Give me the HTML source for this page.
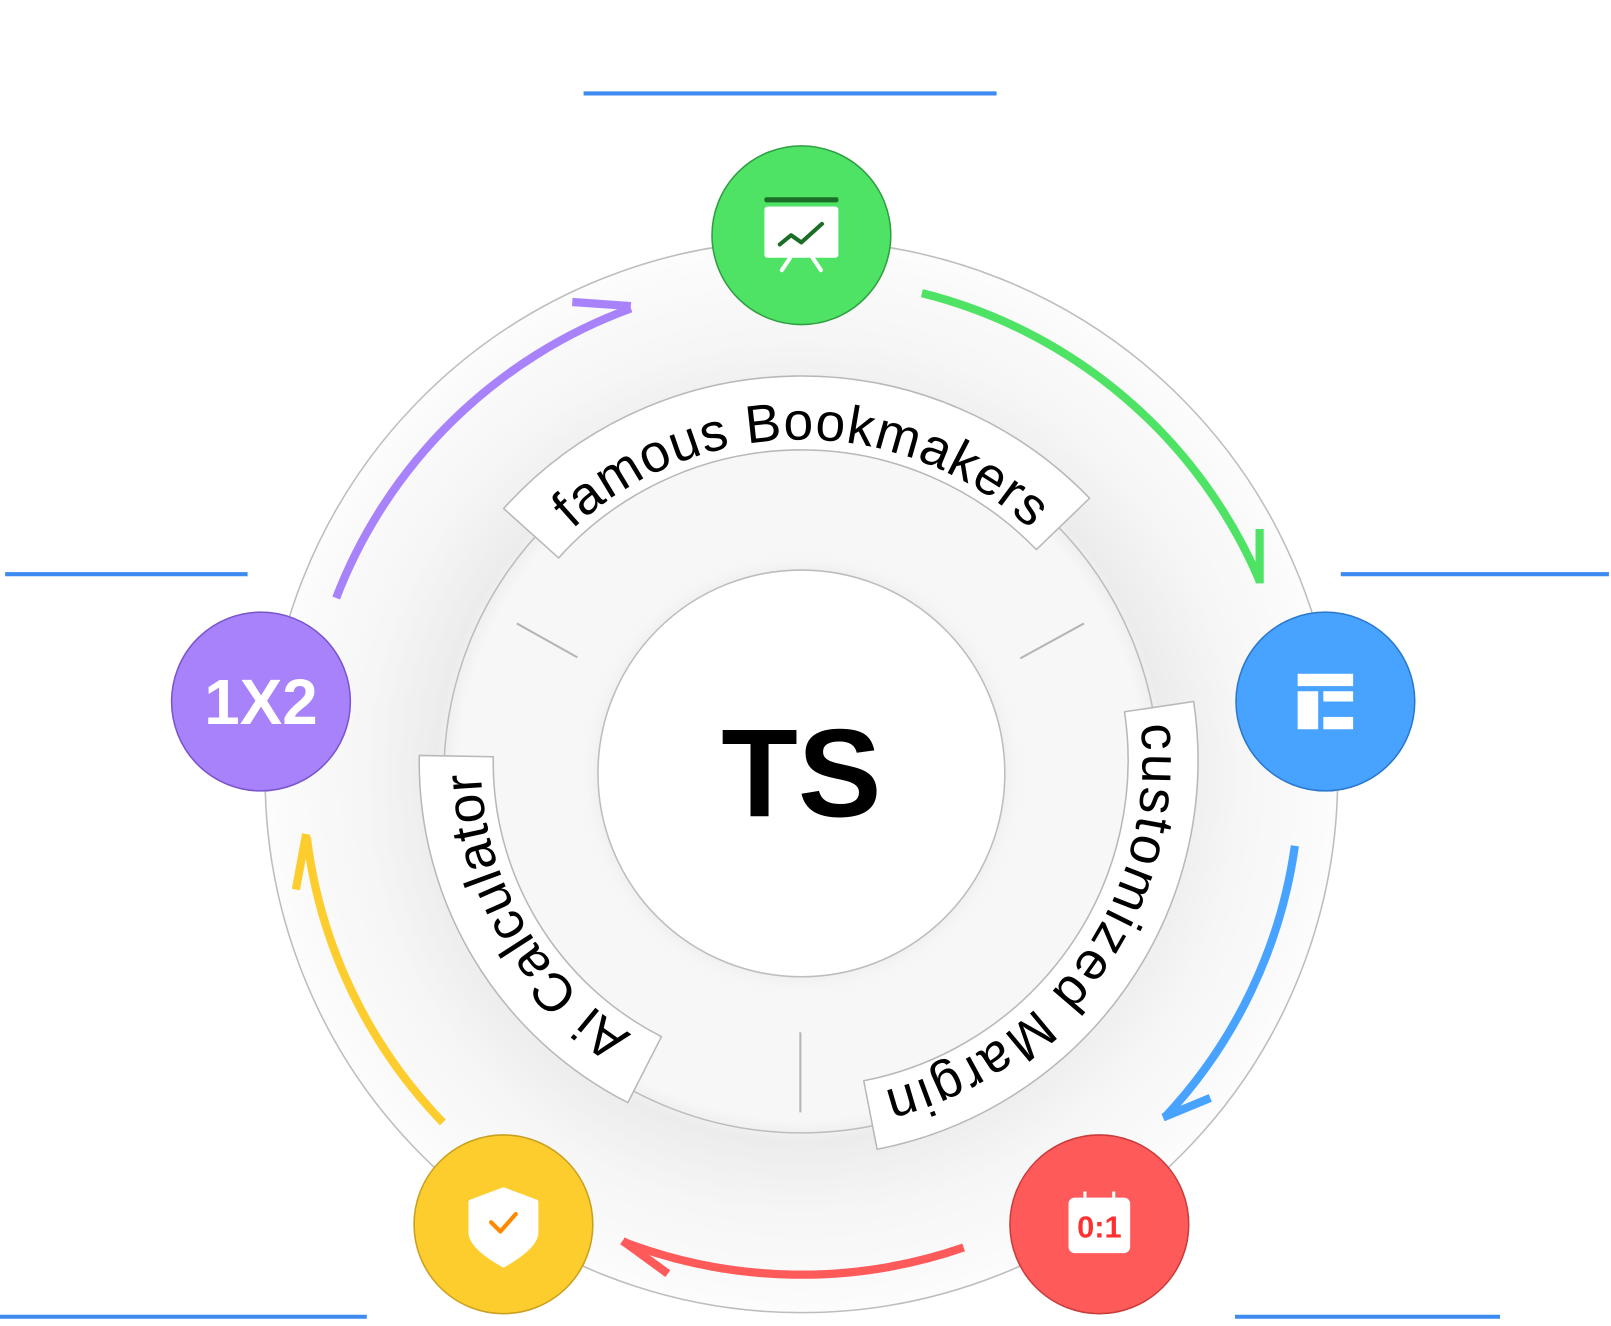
<!DOCTYPE html>
<html><head><meta charset="utf-8"><style>
html,body{margin:0;padding:0;background:#fff;}
svg{display:block;}
text{font-family:"Liberation Sans",Arial,sans-serif;}
</style></head><body>
<svg width="1611" height="1326" viewBox="0 0 1568 1291" preserveAspectRatio="none" xmlns="http://www.w3.org/2000/svg">
<defs>
<radialGradient id="bg" gradientUnits="userSpaceOnUse" cx="780" cy="756" r="522">
<stop offset="0" stop-color="#f6f6f6"/>
<stop offset="0.64" stop-color="#f7f7f7"/>
<stop offset="0.68" stop-color="#ececec"/>
<stop offset="0.82" stop-color="#f6f6f6"/>
<stop offset="1" stop-color="#fcfcfc"/>
</radialGradient>
<radialGradient id="cg" gradientUnits="userSpaceOnUse" cx="780" cy="753" r="215">
<stop offset="0.9" stop-color="#ececec"/>
<stop offset="1" stop-color="#f6f6f6" stop-opacity="0"/>
</radialGradient>
<path id="tp1" d="M471.8,643.8 A328,328 0 0 1 1088.2,643.8"/>
<path id="tp2" d="M1080.9,599.7 A332,332 0 0 1 751.1,1070.7"/>
<path id="tp3" d="M725.8,1049.3 A312,312 0 0 1 486.8,635.3"/>
</defs>

<!-- blue lines -->
<g stroke="#3d8af0" stroke-width="4">
<line x1="568" y1="91" x2="970" y2="91"/>
<line x1="5" y1="559" x2="241" y2="559"/>
<line x1="1305" y1="559" x2="1566" y2="559"/>
<line x1="0" y1="1282" x2="357" y2="1282"/>
<line x1="1202" y1="1282" x2="1460" y2="1282"/>
</g>

<circle cx="780" cy="756" r="522" fill="url(#bg)" stroke="#bdbdbd" stroke-width="1.5"/>
<circle cx="780" cy="755" r="348" fill="none" stroke="#bdbdbd" stroke-width="1.5"/>
<circle cx="780" cy="753" r="215" fill="url(#cg)"/>
<circle cx="780" cy="753" r="198" fill="#fff" stroke="#bdbdbd" stroke-width="1.5"/>

<!-- ticks -->
<g stroke="#b5b5b5" stroke-width="2">
<line x1="503" y1="607" x2="562" y2="640"/>
<line x1="993" y1="641" x2="1055" y2="607"/>
<line x1="779" y1="1005" x2="779" y2="1083"/>
</g>

<text x="780" y="795" text-anchor="middle" font-size="122" font-weight="bold" fill="#000">TS</text>

<!-- ribbons -->
<g fill="#fff" stroke="#b8b8b8" stroke-width="1.5" stroke-linejoin="round">
<path d="M490.2,495.1 A390,390 0 0 1 1060.5,485.1 L1008.7,535.1 A318,318 0 0 0 543.7,543.2 Z"/>
<path d="M1161.8,683 A386,386 0 0 1 853.7,1118.9 L840.7,1052.2 A318,318 0 0 0 1094.5,693 Z"/>
<path d="M611.1,1073.5 A372,372 0 0 1 408.1,735.5 L480.1,736.8 A300,300 0 0 0 643.8,1009.3 Z"/>
</g>
<g font-size="52" fill="#000">
<text><textPath href="#tp1" startOffset="50%" text-anchor="middle" textLength="490">famous Bookmakers</textPath></text>
<text><textPath href="#tp2" startOffset="50%" text-anchor="middle" textLength="475">customized Margin</textPath></text>
<text><textPath href="#tp3" startOffset="50%" text-anchor="middle" textLength="305">Ai Calculator</textPath></text>
</g>

<!-- arrows -->
<g fill="none" stroke-width="8">
<g stroke="#4fe365"><path d="M897.3,285.4 A485,485 0 0 1 1226.4,566.5"/><path d="M1226,568 L1226,515"/></g>
<g stroke="#47a3ff"><path d="M1260.3,823.5 A485,485 0 0 1 1134.7,1086.8"/><path d="M1132,1088 L1178,1069"/></g>
<g stroke="#ff5a5a"><path d="M937.9,1214.6 A485,485 0 0 1 606.2,1208.8"/><path d="M606,1208 L650,1240"/></g>
<g stroke="#fdcd2e"><path d="M431.1,1092.9 A485,485 0 0 1 298.6,815.1"/><path d="M298,812 L288,866"/></g>
<g stroke="#a782fb"><path d="M327.2,582.2 A485,485 0 0 1 614.1,300.3"/><path d="M614,298 L557,294"/></g>
</g>

<!-- nodes -->
<circle cx="780" cy="229" r="87" fill="#4fe365" stroke="#2f9e44" stroke-width="1.5"/>
<rect x="744" y="192" width="72" height="5" rx="2" fill="#1b6e26"/>
<rect x="744" y="201" width="72" height="50" rx="3" fill="#fff"/>
<g stroke="#fff" stroke-width="4" stroke-linecap="round"><line x1="769" y1="251" x2="761" y2="263"/><line x1="791" y1="251" x2="799" y2="263"/></g>
<polyline points="759,238 770,229 780,236 800,218" fill="none" stroke="#1b6e26" stroke-width="4" stroke-linecap="round" stroke-linejoin="round"/>

<circle cx="1290" cy="683" r="87" fill="#47a3ff" stroke="#2a78cc" stroke-width="1.5"/>
<g fill="#fff">
<rect x="1263" y="656" width="54" height="12"/>
<rect x="1263" y="673" width="20" height="37"/>
<rect x="1288" y="673" width="29" height="10"/>
<rect x="1288" y="698" width="29" height="12"/>
</g>

<circle cx="1070" cy="1192" r="87" fill="#ff5a5a" stroke="#c93c3c" stroke-width="1.5"/>
<rect x="1040" y="1166" width="60" height="54" rx="6" fill="#fff"/>
<g stroke="#fff" stroke-width="3"><line x1="1056" y1="1160" x2="1056" y2="1168"/><line x1="1084" y1="1160" x2="1084" y2="1168"/></g>
<text x="1070" y="1205" text-anchor="middle" font-size="30" font-weight="bold" fill="#ff3030">0:1</text>

<circle cx="490" cy="1192" r="87" fill="#fdcd2e" stroke="#c9a020" stroke-width="1.5"/>
<path d="M490,1158 L522,1170 L522,1200 Q522,1214 490,1232 Q458,1214 458,1200 L458,1170 Z" fill="#fff" stroke="#fff" stroke-width="4" stroke-linejoin="round"/>
<polyline points="478,1190 487,1199 502,1182" fill="none" stroke="#ff8a00" stroke-width="4" stroke-linecap="round" stroke-linejoin="round"/>

<circle cx="254" cy="683" r="87" fill="#a782fb" stroke="#7a55cc" stroke-width="1.5"/>
<text x="254" y="705" text-anchor="middle" font-size="62" font-weight="bold" fill="#fff">1X2</text>
</svg>
</body></html>
